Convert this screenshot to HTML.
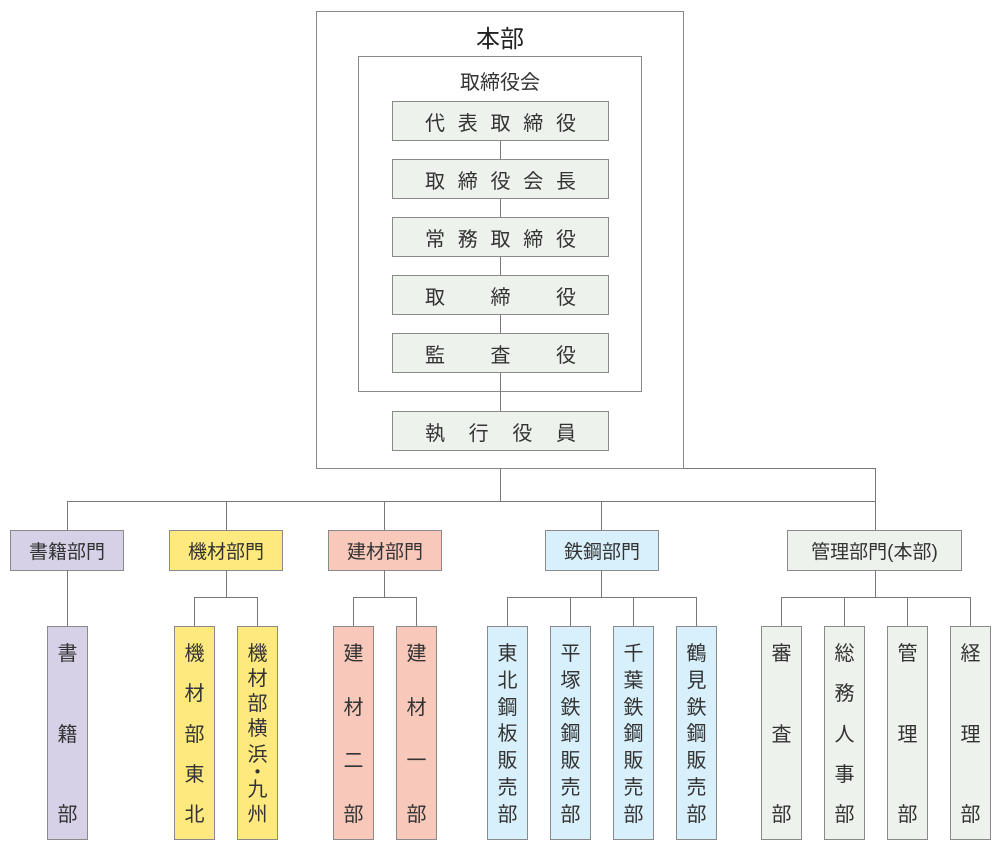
<!DOCTYPE html>
<html><head><meta charset="utf-8"><style>
body{margin:0;width:1000px;height:852px;background:#fff;position:relative;font-family:"Liberation Sans","Noto Sans CJK JP",sans-serif;color:#333;overflow:hidden}
.a{position:absolute;box-sizing:border-box}
.l{position:absolute;background:#777}
.b{border:1px solid #8a8a8a}
.g{background:#edf3ec}
.sp{display:flex;justify-content:space-between;align-items:center;padding:0 32px;font-size:20px}
.c{display:flex;justify-content:center;align-items:center;font-size:19px}
.v{display:flex;flex-direction:column;justify-content:space-between;align-items:center;padding:16px 0 12px;font-size:20px;line-height:23px}
.pu{background:#d6d1e7}.ye{background:#fee97f}.pk{background:#f8c9bb}.bl{background:#d8f0fb}
</style></head><body>
<div class="a b" style="left:316px;top:11px;width:368px;height:458px"></div>
<div class="a c" style="left:316px;top:20px;width:368px;height:32px;font-size:24px;color:#222">本部</div>
<div class="a b" style="left:358px;top:56px;width:284px;height:336px"></div>
<div class="a c" style="left:358px;top:66px;width:284px;height:28px;font-size:20px">取締役会</div>
<div class="l" style="left:500px;top:140px;width:1px;height:271px"></div>
<div class="a b g sp" style="left:392px;top:101px;width:217px;height:40px"><span>代</span><span>表</span><span>取</span><span>締</span><span>役</span></div>
<div class="a b g sp" style="left:392px;top:159px;width:217px;height:40px"><span>取</span><span>締</span><span>役</span><span>会</span><span>長</span></div>
<div class="a b g sp" style="left:392px;top:217px;width:217px;height:40px"><span>常</span><span>務</span><span>取</span><span>締</span><span>役</span></div>
<div class="a b g sp" style="left:392px;top:275px;width:217px;height:40px"><span>取</span><span>締</span><span>役</span></div>
<div class="a b g sp" style="left:392px;top:333px;width:217px;height:40px"><span>監</span><span>査</span><span>役</span></div>
<div class="a b g sp" style="left:392px;top:411px;width:217px;height:40px"><span>執</span><span>行</span><span>役</span><span>員</span></div>

<div class="l" style="left:500px;top:468px;width:1px;height:33px"></div>
<div class="l" style="left:67px;top:501px;width:809px;height:1px"></div>
<div class="l" style="left:67px;top:501px;width:1px;height:29px"></div>
<div class="l" style="left:226px;top:501px;width:1px;height:29px"></div>
<div class="l" style="left:384px;top:501px;width:1px;height:29px"></div>
<div class="l" style="left:601px;top:501px;width:1px;height:29px"></div>
<div class="l" style="left:875px;top:468px;width:1px;height:62px"></div>
<div class="l" style="left:684px;top:468px;width:191px;height:1px"></div>

<div class="a b pu c" style="left:10px;top:530px;width:114px;height:41px">書籍部門</div>
<div class="a b ye c" style="left:169px;top:530px;width:114px;height:41px">機材部門</div>
<div class="a b pk c" style="left:328px;top:530px;width:114px;height:41px">建材部門</div>
<div class="a b bl c" style="left:545px;top:530px;width:114px;height:41px">鉄鋼部門</div>
<div class="a b g c" style="left:787px;top:530px;width:175px;height:41px">管理部門(本部)</div>

<div class="l" style="left:67px;top:570px;width:1px;height:56px"></div>
<div class="l" style="left:226px;top:570px;width:1px;height:27px"></div>
<div class="l" style="left:194px;top:597px;width:64px;height:1px"></div>
<div class="l" style="left:194px;top:597px;width:1px;height:29px"></div>
<div class="l" style="left:257px;top:597px;width:1px;height:29px"></div>
<div class="l" style="left:384px;top:570px;width:1px;height:27px"></div>
<div class="l" style="left:353px;top:597px;width:64px;height:1px"></div>
<div class="l" style="left:353px;top:597px;width:1px;height:29px"></div>
<div class="l" style="left:416px;top:597px;width:1px;height:29px"></div>
<div class="l" style="left:601px;top:570px;width:1px;height:27px"></div>
<div class="l" style="left:507px;top:597px;width:190px;height:1px"></div>
<div class="l" style="left:507px;top:597px;width:1px;height:29px"></div>
<div class="l" style="left:570px;top:597px;width:1px;height:29px"></div>
<div class="l" style="left:633px;top:597px;width:1px;height:29px"></div>
<div class="l" style="left:696px;top:597px;width:1px;height:29px"></div>
<div class="l" style="left:875px;top:570px;width:1px;height:27px"></div>
<div class="l" style="left:781px;top:597px;width:190px;height:1px"></div>
<div class="l" style="left:781px;top:597px;width:1px;height:29px"></div>
<div class="l" style="left:844px;top:597px;width:1px;height:29px"></div>
<div class="l" style="left:907px;top:597px;width:1px;height:29px"></div>
<div class="l" style="left:970px;top:597px;width:1px;height:29px"></div>

<div class="a b pu v" style="left:47px;top:626px;width:41px;height:214px"><span>書</span><span>籍</span><span>部</span></div>
<div class="a b ye v" style="left:174px;top:626px;width:41px;height:214px"><span>機</span><span>材</span><span>部</span><span>東</span><span>北</span></div>
<div class="a b ye v" style="left:237px;top:626px;width:41px;height:214px"><span>機</span><span>材</span><span>部</span><span>横</span><span>浜</span><span style="line-height:8px">・</span><span>九</span><span>州</span></div>
<div class="a b pk v" style="left:333px;top:626px;width:41px;height:214px"><span>建</span><span>材</span><span>二</span><span>部</span></div>
<div class="a b pk v" style="left:396px;top:626px;width:41px;height:214px"><span>建</span><span>材</span><span>一</span><span>部</span></div>
<div class="a b bl v" style="left:487px;top:626px;width:41px;height:214px"><span>東</span><span>北</span><span>鋼</span><span>板</span><span>販</span><span>売</span><span>部</span></div>
<div class="a b bl v" style="left:550px;top:626px;width:41px;height:214px"><span>平</span><span>塚</span><span>鉄</span><span>鋼</span><span>販</span><span>売</span><span>部</span></div>
<div class="a b bl v" style="left:613px;top:626px;width:41px;height:214px"><span>千</span><span>葉</span><span>鉄</span><span>鋼</span><span>販</span><span>売</span><span>部</span></div>
<div class="a b bl v" style="left:676px;top:626px;width:41px;height:214px"><span>鶴</span><span>見</span><span>鉄</span><span>鋼</span><span>販</span><span>売</span><span>部</span></div>
<div class="a b g v" style="left:761px;top:626px;width:41px;height:214px"><span>審</span><span>査</span><span>部</span></div>
<div class="a b g v" style="left:824px;top:626px;width:41px;height:214px"><span>総</span><span>務</span><span>人</span><span>事</span><span>部</span></div>
<div class="a b g v" style="left:887px;top:626px;width:41px;height:214px"><span>管</span><span>理</span><span>部</span></div>
<div class="a b g v" style="left:950px;top:626px;width:41px;height:214px"><span>経</span><span>理</span><span>部</span></div>
</body></html>
